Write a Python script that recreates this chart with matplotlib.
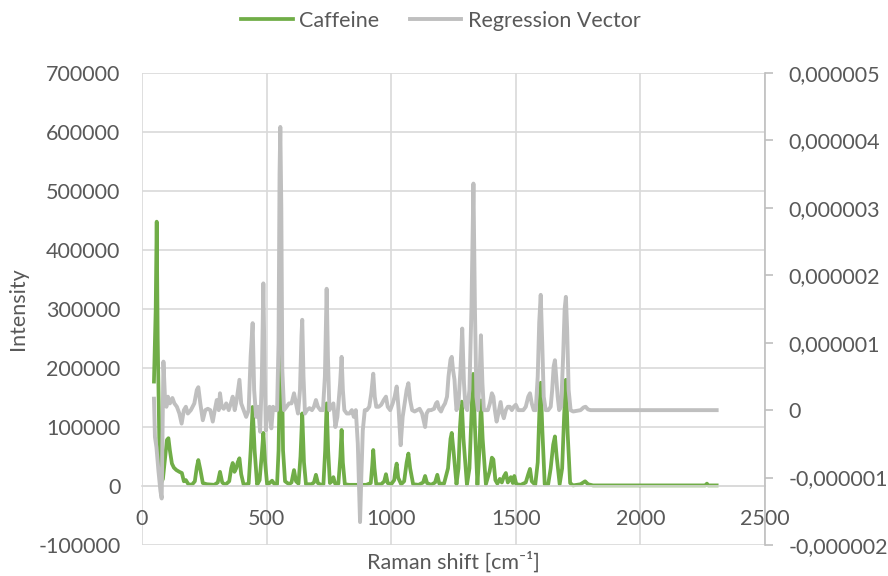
import numpy as np
import matplotlib
matplotlib.use('Agg')
import matplotlib.pyplot as plt
from matplotlib.ticker import FuncFormatter, MultipleLocator

plt.rcParams['font.family'] = ['Lato', 'DejaVu Sans']

# Caffeine spectrum (Raman shift, intensity)
caf_x = [48, 55, 59, 63, 70, 76, 84, 92, 100, 106, 112, 120, 128, 138, 150, 160, 168, 176, 186, 200,
         212, 220, 226, 234, 244, 260, 290, 304, 313, 322, 334, 350, 358, 364, 371, 378, 384, 391, 398, 408,
         428, 436, 444, 452, 462, 472, 480, 487, 494, 502, 512, 522, 532, 542, 548, 554, 557, 561, 566, 574,
         590, 600, 610, 618, 628, 636, 643, 650, 658, 680, 690, 698, 706, 718, 728, 735, 741, 747, 754, 762,
         768, 775, 788, 796, 801, 806, 814, 830, 860, 900, 918, 924, 928, 933, 940, 960, 972, 979, 986, 1000,
         1012, 1018, 1022, 1028, 1040, 1052, 1062, 1069, 1076, 1088, 1110, 1128, 1136, 1144, 1160, 1176, 1185, 1193, 1212, 1228,
         1238, 1243, 1250, 1262, 1270, 1276, 1283, 1290, 1304, 1314, 1322, 1329, 1336, 1346, 1354, 1360, 1367, 1380, 1395, 1404,
         1410, 1418, 1426, 1436, 1444, 1452, 1460, 1468, 1480, 1488, 1494, 1502, 1520, 1540, 1550, 1557, 1564, 1578, 1588, 1595,
         1600, 1606, 1616, 1630, 1640, 1650, 1657, 1664, 1676, 1686, 1694, 1701, 1708, 1718, 1730, 1760, 1778, 1790, 1810, 1900,
         2000, 2100, 2200, 2260, 2267, 2272, 2306]
caf_y = [177000, 300000, 448000, 250000, 60000, 5000, 12000, 45000, 78000, 81000, 60000, 38000, 31000, 27000, 24000, 22000, 8000, 10000, 3000, 2000,
         8000, 32000, 44000, 28000, 5000, 3000, 2000, 6000, 24000, 6000, 2000, 8000, 30000, 39000, 24000, 30000, 40000, 47000, 20000, 2000,
         4000, 60000, 134000, 60000, 2000, 10000, 50000, 90000, 40000, 3000, 5000, 9000, 3000, 3000, 60000, 200000, 320000, 220000, 60000, 8000,
         3000, 6000, 27000, 8000, 4000, 50000, 123000, 40000, 3000, 3000, 6000, 19000, 5000, 2000, 3000, 60000, 140000, 60000, 5000, 8000,
         15000, 4000, 4000, 50000, 95000, 40000, 3000, 2000, 2000, 2000, 5000, 35000, 61000, 30000, 3000, 3000, 8000, 20000, 5000, 3000,
         10000, 30000, 38000, 14000, 3000, 8000, 40000, 55000, 30000, 3000, 2000, 6000, 17000, 5000, 2000, 6000, 19000, 4000, 4000, 30000,
         80000, 90000, 60000, 3000, 30000, 100000, 143000, 80000, 2000, 30000, 120000, 190000, 100000, 2000, 60000, 145000, 80000, 3000, 25000, 48000,
         45000, 10000, 4000, 12000, 6000, 16000, 22000, 6000, 15000, 5000, 17000, 3000, 2000, 6000, 20000, 29000, 8000, 2000, 40000, 130000,
         175000, 100000, 3000, 3000, 30000, 70000, 84000, 50000, 3000, 30000, 120000, 180000, 90000, 5000, 1000, 3000, 8000, 3000, 1000, 1000,
         1000, 1000, 1000, 1000, 4000, 1000, 1000]

# Regression vector (Raman shift, coefficient in units of 1e-6)
reg_x = [48, 52, 58, 66, 74, 79, 83, 86, 92, 98, 104, 112, 122, 130, 140, 150, 159, 168, 176, 184,
         196, 210, 220, 226, 234, 244, 254, 264, 274, 284, 292, 300, 308, 313, 320, 328, 338, 348, 358, 364,
         372, 380, 391, 398, 408, 418, 428, 436, 444, 450, 458, 466, 474, 481, 487, 492, 497, 504, 512, 519,
         526, 534, 542, 548, 552, 555, 559, 563, 570, 580, 590, 600, 610, 618, 626, 634, 640, 643, 648, 654,
         662, 672, 682, 690, 698, 706, 716, 726, 734, 741, 746, 752, 760, 768, 776, 784, 795, 801, 806, 812,
         822, 832, 842, 850, 858, 866, 872, 875, 880, 886, 894, 902, 912, 920, 928, 934, 940, 950, 960, 970,
         979, 986, 996, 1006, 1014, 1022, 1030, 1038, 1046, 1054, 1062, 1069, 1076, 1084, 1094, 1104, 1114, 1124, 1130, 1136,
         1142, 1150, 1160, 1172, 1180, 1185, 1192, 1200, 1208, 1216, 1224, 1230, 1238, 1243, 1248, 1254, 1258, 1262, 1270, 1278,
         1285, 1292, 1298, 1305, 1314, 1322, 1330, 1336, 1342, 1348, 1354, 1360, 1366, 1372, 1380, 1388, 1396, 1404, 1410, 1416,
         1423, 1430, 1439, 1446, 1452, 1460, 1468, 1476, 1484, 1492, 1500, 1510, 1520, 1530, 1540, 1550, 1557, 1564, 1572, 1580,
         1588, 1594, 1600, 1606, 1612, 1620, 1630, 1640, 1646, 1652, 1657, 1662, 1668, 1674, 1682, 1690, 1696, 1701, 1706, 1712,
         1720, 1730, 1745, 1760, 1772, 1780, 1790, 1800, 1900, 2000, 2100, 2200, 2306]
reg_y = [0.17, -0.4, -0.55, -0.9, -1.2, -1.31, -0.2, 0.72, 0.2, 0.05, 0.2, 0.1, 0.18, 0.1, 0.05, -0.05, -0.2, 0.0, 0.05, -0.05,
         0.0, 0.1, 0.3, 0.34, 0.1, -0.15, 0.0, 0.02, 0.0, -0.17, 0.0, 0.15, 0.0, 0.25, 0.05, 0.02, 0.1, 0.0, 0.12, 0.2,
         0.0, 0.15, 0.45, 0.1, 0.0, -0.1, 0.0, 0.8, 1.29, 0.3, -0.1, 0.05, -0.32, 0.5, 1.88, 0.6, -0.3, 0.0, 0.05, -0.27,
         0.05, 0.0, 0.0, 1.0, 3.5, 4.2, 3.0, 0.6, 0.0, 0.05, 0.1, 0.1, 0.25, 0.1, -0.05, 0.3, 1.1, 1.34, 0.5, -0.05,
         0.0, 0.03, 0.0, 0.05, 0.15, 0.05, 0.0, 0.0, 0.5, 1.8, 0.8, 0.0, 0.05, 0.1, -0.25, -0.1, 0.4, 0.79, 0.3, 0.0,
         -0.05, -0.05, 0.0, -0.1, 0.0, -0.5, -1.3, -1.66, -1.0, -0.3, 0.0, 0.0, 0.05, 0.25, 0.54, 0.2, 0.05, 0.05, 0.08, 0.15,
         0.2, 0.05, 0.0, 0.1, 0.2, 0.35, 0.0, -0.52, -0.1, 0.1, 0.3, 0.4, 0.15, 0.0, -0.02, 0.0, 0.02, -0.05, -0.15, -0.25,
         -0.05, 0.0, 0.0, 0.02, 0.1, 0.12, 0.02, -0.02, 0.05, 0.1, 0.2, 0.5, 0.75, 0.79, 0.6, 0.45, 0.2, 0.0, 0.1, 0.6,
         1.21, 0.4, 0.05, 0.0, 0.3, 1.5, 3.36, 1.5, 0.2, 0.0, 0.4, 1.11, 0.4, 0.0, 0.0, 0.0, 0.1, 0.25, 0.2, 0.0,
         -0.17, -0.05, 0.12, -0.05, -0.12, 0.0, 0.05, 0.05, 0.0, 0.05, 0.08, 0.0, 0.0, 0.0, 0.05, 0.2, 0.25, 0.1, 0.0, 0.0,
         0.5, 1.3, 1.71, 1.0, 0.2, 0.0, 0.0, 0.05, 0.3, 0.65, 0.74, 0.5, 0.2, 0.0, 0.05, 0.8, 1.5, 1.68, 1.2, 0.3,
         0.0, -0.02, -0.01, 0.0, 0.04, 0.05, 0.01, 0.0, 0.0, 0.0, 0.0, 0.0, 0.0]

text_col = '#595959'
grid_col = '#d9d9d9'
fs = 15.5

fig = plt.figure(figsize=(8.88, 5.76), dpi=100)
ax = fig.add_axes([142/888, 1-545/576, (765-142)/888, (545-73)/576])
ax2 = ax.twinx()

l1, = ax.plot(caf_x, caf_y, color='#70ad47', lw=2.7, solid_joinstyle='round')
l2, = ax2.plot(reg_x, np.array(reg_y)*1e-6, color='#bfbfbf', lw=2.8, solid_joinstyle='round')

ax.set_xlim(0, 2500)
ax.set_ylim(-100000, 700000)
ax2.set_ylim(-2e-6, 5e-6)
ax.xaxis.set_major_locator(MultipleLocator(500))
ax.yaxis.set_major_locator(MultipleLocator(100000))
ax2.yaxis.set_major_locator(MultipleLocator(1e-6))

ax.grid(True, color=grid_col, lw=1.2)
ax.set_axisbelow(True)
for s in ['left', 'top', 'right']:
    ax.spines[s].set_visible(False)
# category axis crosses at 0, like in the spreadsheet chart
ax.spines['bottom'].set_position(('data', 0))
ax.spines['bottom'].set_color(grid_col)
ax.spines['bottom'].set_linewidth(1.2)
for s in ['left', 'top', 'bottom']:
    ax2.spines[s].set_visible(False)
ax2.spines['right'].set_color('#bfbfbf')
ax2.spines['right'].set_linewidth(1.2)

ax.tick_params(axis='y', length=0, labelsize=fs, labelcolor=text_col, pad=15.5)
ax.tick_params(axis='x', length=0, labelsize=fs, labelcolor=text_col, pad=16.5)
ax2.tick_params(axis='y', length=5.8, width=1.2, color='#bfbfbf', labelsize=fs, labelcolor=text_col, pad=11)


def right_fmt(v, pos):
    if abs(v) < 1e-12:
        return '0'
    return ('%.6f' % v).replace('.', ',')


ax2.yaxis.set_major_formatter(FuncFormatter(right_fmt))
ax.yaxis.set_major_formatter(FuncFormatter(lambda v, p: '%d' % v))

fig.text(453.5/888, 1-562/576, 'Raman shift [cm\u207b\u00b9]', ha='center', va='center',
         fontsize=fs, color=text_col)
fig.text(18/888, 1-309/576, 'Intensity', rotation=90, ha='center', va='center', fontsize=fs, color=text_col)

fig.legend([l1, l2], ['Caffeine', 'Regression Vector'], loc='center', bbox_to_anchor=(441/888, 1-21/576),
           ncol=2, frameon=False, fontsize=fs, labelcolor=text_col, handlelength=2.4, handletextpad=0.3,
           columnspacing=1.4)

fig.savefig('out.png', dpi=100)
